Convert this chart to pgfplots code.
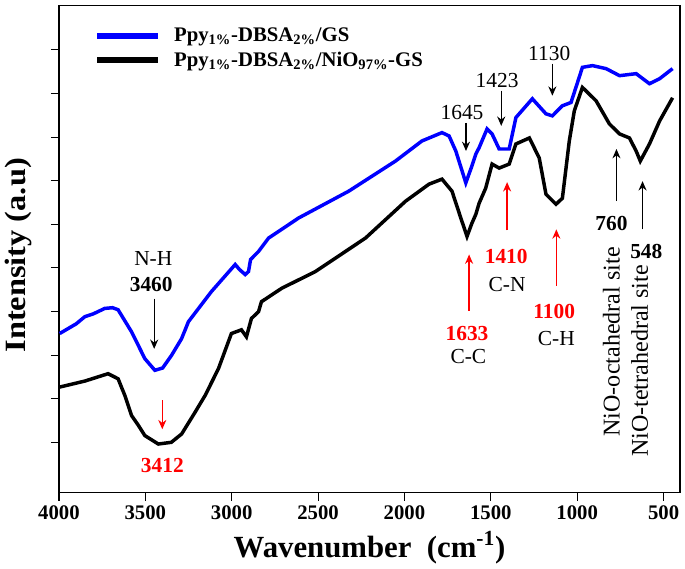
\documentclass[border=0pt]{standalone}
\usepackage{pgfplots}
\pgfplotsset{compat=1.18}
\usepackage{fontspec}
\setmainfont{Liberation Serif}
\usetikzlibrary{arrows.meta}
\begin{document}
\begin{tikzpicture}
\begin{axis}[
  scale only axis, width=464pt, height=364pt,
  x dir=reverse, xmin=405, xmax=4000,
  ymin=0, ymax=485,
  xtick={500,1000,...,4000},
  ytick={50,93.4,136.8,180.2,223.6,267,310.4,353.8,397.2,440.6},
  yticklabels={},
  tick align=outside, tick pos=left,
  major tick length=6pt,
  axis line style={line width=1pt},
  every tick/.style={line width=0.8pt,black},
  /pgf/number format/assume math mode=true,
  /pgf/number format/1000 sep={},
  xticklabel style={font=\bfseries\fontsize{15.5}{15.5}\selectfont},
  xlabel={\bfseries Wavenumber\ \ (cm\textsuperscript{-1})},
  xlabel style={font=\fontsize{23}{23}\selectfont, at={(axis description cs:0.5,-0.113)}, anchor=center},
  ylabel={\scalebox{1.1}[1]{\bfseries Intensity (a.u)}},
  ylabel style={font=\fontsize{22}{22}\selectfont, at={(axis description cs:-0.066,0.487)}, anchor=center},
  clip=false,
  legend cell align=left,
  legend style={at={(0.05,0.965)}, anchor=north west, draw=none, fill=none,
    font=\bfseries\fontsize{15.5}{17}\selectfont, row sep=2pt},
  legend image code/.code={\draw[#1, line width=4.5pt] (0,0) -- (1.6cm,0); \path (1.9cm,0);},
]
\addplot[blue, line width=2.6pt] coordinates {
(3996,158.3) (3900,168) (3851,175) (3800,178) (3735,183.3) (3690,184) (3658,182)
(3580,160) (3503,133.3) (3445,121.7) (3400,124) (3348,136.7) (3290,153.3)
(3251,170) (3118,200) (2980,227) (2955,222) (2922,217) (2903,220) (2891,232) (2845,240)
(2787,253.3) (2613,273.3) (2323,300) (2052,330) (1899,350) (1783,358.3) (1742,355)
(1703,340) (1670,322) (1645,308.3) (1610,325) (1587,337)
(1568,343.3) (1522,362) (1493,357) (1452,342) (1394,342) (1355,373.3) (1260,392)
(1181,377) (1144,375) (1086,385) (1036,388.3) (970,423.3) (912,425) (833,422)
(755,415) (659,417) (582,407) (523,412) (448,422)
};
\addlegendentry{Ppy\textsubscript{1\%}-DBSA\textsubscript{2\%}/GS}
\addplot[black, line width=2.6pt] coordinates {
(3996,105) (3850,111) (3716,118.3) (3658,113.3) (3619,96.7) (3580,76.7) (3541,67)
(3503,56.7) (3425,48.3) (3350,50) (3290,58.3) (3212,80) (3154,96.7)
(3077,123.3) (3002,158.3) (2944,162) (2915,155) (2886,173.3) (2845,180) (2828,190)
(2711,203.3) (2516,220) (2226,253.3) (1994,290) (1858,307) (1783,312) (1725,300)
(1674,273.3) (1638,255) (1610,268) (1587,277)
(1568,288) (1530,303) (1493,327) (1452,323) (1394,327) (1355,347) (1277,353) (1220,333) (1181,297)
(1123,287) (1086,293) (1046,350) (1017,380) (970,403.3) (891,390) (814,367)
(755,357) (698,353) (659,340) (635,330) (582,347) (523,370) (448,393)
};
\addlegendentry{Ppy\textsubscript{1\%}-DBSA\textsubscript{2\%}/NiO\textsubscript{97\%}-GS}

% annotations
\tikzset{ann/.style={font=\fontsize{16}{16}\selectfont},
  annb/.style={font=\bfseries\fontsize{16}{16}\selectfont},
  blk/.style={-{Stealth[length=7pt,width=6pt]}, line width=1pt, black},
  rd/.style={-{Stealth[length=7pt,width=6pt]}, line width=1pt, red}}
\node[ann] at (axis cs:3454,233) {N-H};
\node[annb] at (axis cs:3466,207) {3460};
\draw[blk] (axis cs:3449,193) -- (axis cs:3449,143);
\draw[rd] (axis cs:3402,92) -- (axis cs:3402,63);
\node[annb,red] at (axis cs:3402,27) {3412};

\node[ann] at (axis cs:1667,378) {1645};
\draw[blk] (axis cs:1644,368) -- (axis cs:1644,340);
\node[ann] at (axis cs:1464,410) {1423};
\draw[blk] (axis cs:1440,400) -- (axis cs:1440,365);
\node[ann] at (axis cs:1162,437) {1130};
\draw[blk] (axis cs:1144,427) -- (axis cs:1144,395);

\node[annb] at (axis cs:802,268) {760};
\draw[blk] (axis cs:773,290) -- (axis cs:773,342);
\node[annb] at (axis cs:600,240) {548};
\draw[blk] (axis cs:622,262) -- (axis cs:622,310);

\node[annb,red] at (axis cs:1411,235) {1410};
\node[ann] at (axis cs:1406,207) {C-N};
\draw[rd] (axis cs:1406,261) -- (axis cs:1406,309);

\node[annb,red] at (axis cs:1638,158) {1633};
\node[ann] at (axis cs:1630,135) {C-C};
\draw[rd] (axis cs:1626,181) -- (axis cs:1626,237);

\node[annb,red] at (axis cs:1133,180) {1100};
\node[ann] at (axis cs:1121,153) {C-H};
\draw[rd] (axis cs:1121,206) -- (axis cs:1121,262);

\node[rotate=90,font=\fontsize{18}{18}\selectfont] at (axis cs:802,150) {NiO-octahedral site};
\node[rotate=90,font=\fontsize{18}{18}\selectfont] at (axis cs:639,131) {NiO-tetrahedral site};

\path (rel axis cs:-0.095,1.011);
\path (rel axis cs:1.008,1);
\end{axis}
\end{tikzpicture}
\end{document}
